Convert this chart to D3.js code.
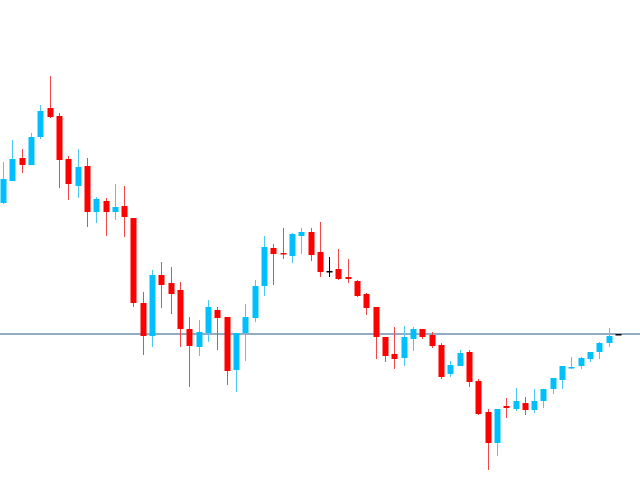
<!DOCTYPE html>
<html><head><meta charset="utf-8">
<script src="https://cdn.jsdelivr.net/npm/d3@7"></script>
<style>html,body{margin:0;padding:0;background:#fff;overflow:hidden}</style>
</head><body><svg id="c" width="640" height="480"></svg>
<script>
const open  = [297,319,342,335,363,392,384,341,314,334,288,299,288,294,282,197,164,225,217,210,171,153,167,190,183,130,167,182,214,252,247,244,264,268,248,229,231,223,219,206,193,163,146,142,161,171,165,155,126,134,148,119,88,57,94,91,97,90,99,111,120,133,134,141,148,157,166];
const high  = [338,360,351,367,395,424,387,344,351,342,303,302,316,314,282,208,230,238,233,218,183,180,200,193,183,167,196,220,264,256,272,267,272,272,278,243,251,241,220,207,193,163,173,174,173,171,168,157,139,150,150,121,91,91,102,112,103,111,111,122,134,143,143,148,158,172,166];
const low   = [296,319,327,335,361,382,312,300,302,273,277,264,280,263,193,145,153,192,186,153,113,144,158,150,115,108,139,178,204,215,241,237,246,239,223,223,220,217,203,185,141,138,131,134,149,161,152,121,123,134,113,85,30,44,82,89,85,87,92,106,111,131,131,138,141,153,166];
const close = [321,341,335,363,389,383,340,316,333,288,301,288,293,283,197,164,225,215,206,171,154,168,193,182,129,167,183,214,253,246,246,266,268,245,228,229,221,221,204,192,163,144,141,163,171,163,154,123,135,147,118,86,57,91,92,99,90,99,111,122,134,133,142,148,157,164,166];
const blackIdx = [35, 66];
const level = 166;

const svg = d3.select("#c");
const n = open.length;
const x = d3.scaleLinear().domain([0, n - 1]).range([3, 618]);
const y = d3.scaleLinear().domain([20, 500]).range([480, 0]);

svg.append("line").attr("x1", 0).attr("x2", 640)
  .attr("y1", y(level)).attr("y2", y(level))
  .attr("stroke", "#6f8fb0").attr("stroke-width", 1.5);

const idx = d3.range(n);
function col(i, wick) {
  if (blackIdx.includes(i)) return "#000";
  const up = close[i] > open[i] || (close[i] === open[i] && i > 55);
  if (up) return wick ? "#4cc8f5" : "#00bfff";
  return wick ? "#f04848" : "#ff0000";
}
svg.selectAll("line.w").data(idx).join("line").attr("class", "w")
  .attr("x1", i => Math.round(x(i)) + 0.5).attr("x2", i => Math.round(x(i)) + 0.5)
  .attr("y1", i => y(high[i])).attr("y2", i => y(low[i]))
  .attr("stroke", i => col(i, true)).attr("stroke-width", 1);
svg.selectAll("rect.b").data(idx).join("rect").attr("class", "b")
  .attr("x", i => Math.round(x(i)) - 2.5)
  .attr("width", 6)
  .attr("y", i => y(Math.max(open[i], close[i])))
  .attr("height", i => Math.max(1.5, Math.abs(y(open[i]) - y(close[i]))))
  .attr("fill", i => col(i, false));
</script></body></html>
